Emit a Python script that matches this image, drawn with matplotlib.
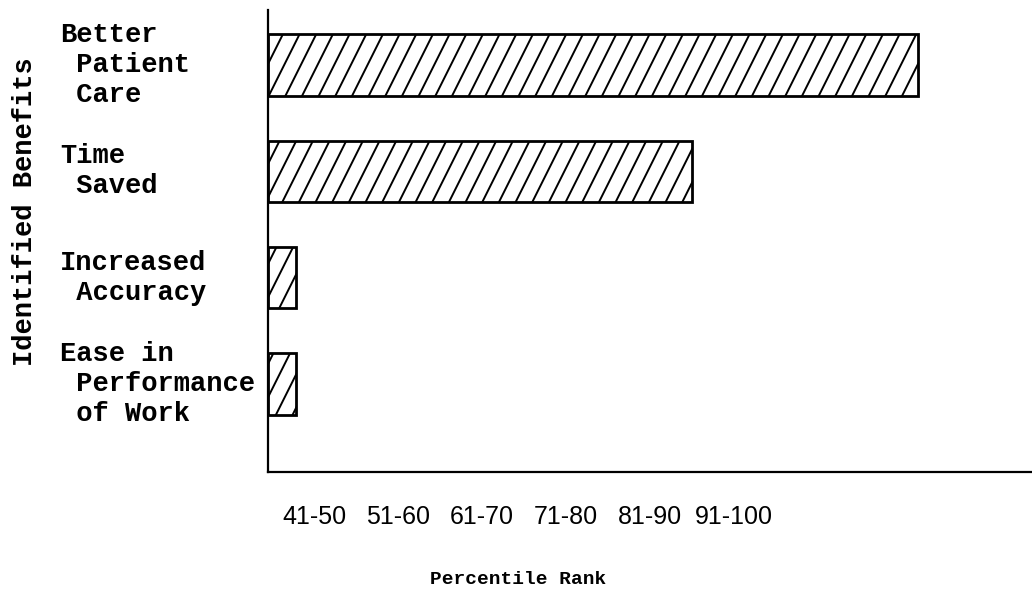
import numpy as np
import matplotlib
matplotlib.use("Agg")
import matplotlib.pyplot as plt
import matplotlib.hatch as mhatch
from matplotlib.path import Path
from matplotlib.transforms import blended_transform_factory

# ---- data ----
categories = ["Better\n Patient\n Care", "Time\n Saved",
              "Increased\n Accuracy", "Ease in\n Performance\n of Work"]
bar_end = [117.4, 90.5, 43.3, 43.3]          # percentile-rank scale (axis starts at 40)
tick_pos = [45.5, 55.5, 65.5, 75.5, 85.5, 95.5]
tick_labels = ["41-50", "51-60", "61-70", "71-80", "81-90", "91-100"]
axis_start = 40


# steep "/" hatch similar to the hand-drawn one
class SteepHatch(mhatch.HatchPatternBase):
    def __init__(self, hatch, density):
        n = int(hatch.count('/') * density)
        self.n = n
        if n:
            self.starts = np.arange(-0.5, 1.0 + 1e-9, 1.0 / n)
            self.num_vertices = len(self.starts) * 2
        else:
            self.num_vertices = 0

    def set_vertices_and_codes(self, vertices, codes):
        s = self.starts
        vertices[0::2, 0] = s
        vertices[0::2, 1] = 0.0
        vertices[1::2, 0] = s + 0.5
        vertices[1::2, 1] = 1.0
        codes[0::2] = Path.MOVETO
        codes[1::2] = Path.LINETO


mhatch._hatch_types = [SteepHatch if t is mhatch.NorthEastHatch else t
                       for t in mhatch._hatch_types]

plt.rcParams['hatch.linewidth'] = 1.4
mono = ['Liberation Mono', 'DejaVu Sans Mono']
sans = ['Liberation Sans', 'DejaVu Sans']

fig = plt.figure(figsize=(10.32, 5.95), dpi=100)
ax = fig.add_axes([268 / 1032, 1 - 472 / 595, 1 - 268 / 1032, 462 / 595])

y = np.arange(len(categories))
widths = np.array(bar_end) - axis_start
ax.barh(y, widths, left=axis_start, height=0.58, facecolor='white',
        edgecolor='black', linewidth=2.0, hatch='/')

ax.set_xlim(axis_start, axis_start + (1032 - 268) / 8.4)
ax.set_ylim(3.83, -0.52)

for s in ['top', 'right']:
    ax.spines[s].set_visible(False)
for s in ['left', 'bottom']:
    ax.spines[s].set_linewidth(1.6)
    ax.spines[s].set_color('black')

ax.set_yticks([])
ax.set_xticks(tick_pos)
ax.set_xticklabels(tick_labels, family=sans, fontsize=18)
ax.tick_params(axis='x', length=0, pad=24)

trans = blended_transform_factory(fig.transFigure, ax.transData)
for yi, lab in zip(y, categories):
    ax.text(60 / 1032, yi, lab, transform=trans, ha='left', va='center',
            family=mono, fontsize=19.5, fontweight='bold', linespacing=1.2,
            multialignment='left')

fig.text(25 / 1032, 1 - 212 / 595, "Identified Benefits", rotation=90,
         ha='center', va='center', family=mono, fontsize=19.5, fontweight='bold')
fig.text(518 / 1032, 1 - 580 / 595, "Percentile Rank", ha='center', va='center',
         family=mono, fontsize=14, fontweight='bold')

fig.savefig("out.png", dpi=100, facecolor='white')
